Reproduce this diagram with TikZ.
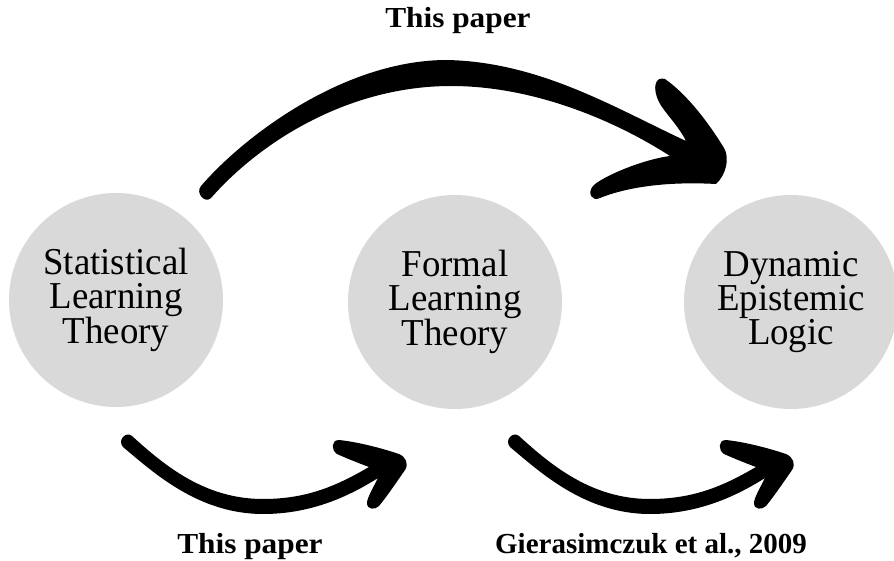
\documentclass[tikz,border=0pt]{standalone}
\usepackage{fontspec}
\setmainfont{Liberation Serif}
\newfontfamily\lblfont{Liberation Serif}[FakeStretch=1.08]
\newfontfamily\circfont{Liberation Serif}[FakeStretch=0.97]
\definecolor{circgray}{HTML}{D9D9D9}
\tikzset{
  circ/.style={circle, fill=circgray, minimum size=214pt, inner sep=0pt, align=center,
    font=\circfont\fontsize{38}{34}\selectfont},
  lbl/.style={anchor=base, inner sep=0pt, font=\lblfont\bfseries\fontsize{29}{33}\selectfont},
  smallarrow/.pic={
    \fill[black] (0,7) .. controls (30,32) and (75,74) .. (140,74)
      .. controls (190,74) and (228,55) .. (255,38)
      .. controls (250,48) and (244,58) .. (244,63)
      .. controls (244,70) and (252,70) .. (256,66)
      .. controls (265,55) and (275,40) .. (282,30)
      .. controls (286,24) and (283,17) .. (276,14)
      .. controls (258,8) and (235,2) .. (216,0)
      .. controls (208,0) and (208,10) .. (214,14)
      .. controls (225,19) and (238,24) .. (246,27)
      .. controls (215,45) and (185,59) .. (140,59)
      .. controls (82,59) and (42,26) .. (9,-4)
      .. controls (3,-9) and (-6,0) .. (0,7) -- cycle;
  }
}
\begin{document}
\begin{tikzpicture}[x=1pt, y=-1pt]
\useasboundingbox (0,0) rectangle (894,561);

% circles
\node[circ] (slt) at (116,300) {Statistical\\Learning\\Theory};
\node[circ] (flt) at (455,302) {Formal\\Learning\\Theory};
\node[circ] (del) at (791,302) {Dynamic\\Epistemic\\Logic};

% big top arrow
\fill[black] (201,186) .. controls (245,135) and (345,60) .. (447,60)
  .. controls (540,62) and (615,108) .. (686,141)
  .. controls (678,125) and (664,112) .. (659,102)
  .. controls (652,88) and (655,76) .. (665,79)
  .. controls (688,95) and (710,125) .. (724,148)
  .. controls (730,158) and (726,175) .. (716,184)
  .. controls (680,182) and (635,184) .. (600,198)
  .. controls (592,202) and (587,193) .. (593,186)
  .. controls (600,178) and (640,160) .. (670,156)
  .. controls (630,130) and (545,86) .. (451,86)
  .. controls (350,86) and (262,140) .. (211,198)
  .. controls (205,204) and (195,193) .. (201,186) -- cycle;

% small arrows
\pic (ar1) at (123,440) {smallarrow};
\pic (ar2) at (510,440) {smallarrow};

% labels
\node[lbl] (top) at (458,28) {This paper};
\node[lbl] (bl) at (250,553) {This paper};
\node[lbl, font=\bfseries\fontsize{29}{33}\selectfont] (br) at (651,553) {Gierasimczuk et al., 2009};
\end{tikzpicture}
\end{document}
